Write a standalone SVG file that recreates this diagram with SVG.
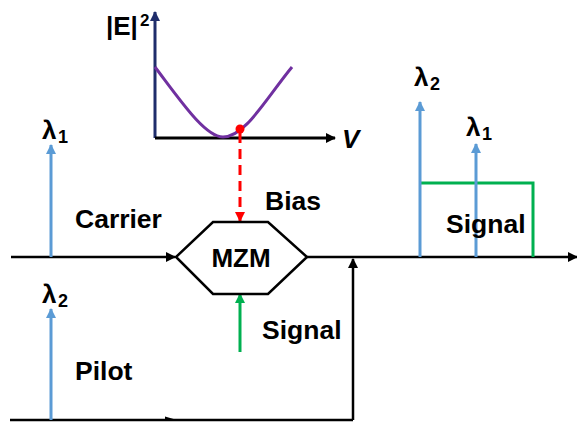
<svg xmlns="http://www.w3.org/2000/svg" width="577" height="422" viewBox="0 0 577 422">
<style>
text{font-family:"Liberation Sans",Arial,sans-serif;font-weight:bold;fill:#000}
.lbl{font-size:26.5px}
.lam{font-size:26px}
.sub{font-size:18px}
.blk{stroke:#000;stroke-width:2.5;fill:none}
.blue{stroke:#5B9BD5;stroke-width:3;fill:none}
.grn{stroke:#00B050;stroke-width:3;fill:none}
</style>
<defs>
<marker id="abk" viewBox="0 0 10 10" refX="9" refY="5" markerWidth="10" markerHeight="10" orient="auto" markerUnits="userSpaceOnUse"><path d="M0,0 L10,5 L0,10 z" fill="#000"/></marker>
<marker id="anv" viewBox="0 0 10 10" refX="9" refY="5" markerWidth="10" markerHeight="10" orient="auto" markerUnits="userSpaceOnUse"><path d="M0,0 L10,5 L0,10 z" fill="#1F2D6B"/></marker>
<marker id="abl" viewBox="0 0 10 10" refX="9" refY="5" markerWidth="10" markerHeight="10" orient="auto" markerUnits="userSpaceOnUse"><path d="M0,0 L10,5 L0,10 z" fill="#5B9BD5"/></marker>
<marker id="agr" viewBox="0 0 10 10" refX="9" refY="5" markerWidth="10" markerHeight="10" orient="auto" markerUnits="userSpaceOnUse"><path d="M0,0 L10,5 L0,10 z" fill="#00B050"/></marker>
<marker id="ard" viewBox="0 0 10 10" refX="9" refY="5" markerWidth="10" markerHeight="10" orient="auto" markerUnits="userSpaceOnUse"><path d="M0,0 L10,5 L0,10 z" fill="#FF0000"/></marker>
</defs>

<g id="plot">
<line x1="155" y1="138" x2="155" y2="12" stroke="#1F2D6B" stroke-width="3" marker-end="url(#anv)"/>
<line x1="155" y1="138" x2="335" y2="138" stroke="#000" stroke-width="3" marker-end="url(#abk)"/>
<path d="M155,67 C180,100 205,137 223,137 C245,137 265,100 292,67" stroke="#7030A0" stroke-width="3" fill="none"/>
<circle cx="240" cy="129" r="4.5" fill="#FF0000"/>
<text x="106" y="35" style="font-size:26px">|E|</text>
<text x="140" y="26" style="font-size:17px">2</text>
<text x="342" y="148" style="font-size:26px;font-style:italic">V</text>
</g>

<g id="connectors">
<line x1="11" y1="257" x2="175" y2="257" class="blk" marker-end="url(#abk)"/>
<line x1="307" y1="257" x2="577" y2="257" class="blk" marker-end="url(#abk)"/>
<line x1="10" y1="420" x2="353" y2="420" class="blk"/>
<path d="M165,416.5 L177,420 L165,420 z" fill="#000"/>
<line x1="353" y1="420" x2="353" y2="259" class="blk" marker-end="url(#abk)"/>
<line x1="240" y1="133" x2="240" y2="221" stroke="#FF0000" stroke-width="3" stroke-dasharray="10,6" marker-end="url(#ard)"/>
<line x1="240" y1="352" x2="240" y2="294" stroke="#00B050" stroke-width="3" marker-end="url(#agr)"/>
</g>

<g id="mzm">
<polygon points="176,257 213,222 268,222 307,257 268,294 213,294" fill="#fff" stroke="#000" stroke-width="2.5"/>
<text x="241" y="267" style="font-size:26px" text-anchor="middle">MZM</text>
</g>

<g id="carrier">
<line x1="51" y1="257" x2="51" y2="145" class="blue" marker-end="url(#abl)"/>
<text x="42" y="139" class="lam">λ</text><text x="58" y="143" class="sub">1</text>
<text x="75" y="228" class="lbl">Carrier</text>
</g>

<g id="pilot">
<line x1="51" y1="420" x2="51" y2="309" class="blue" marker-end="url(#abl)"/>
<text x="42" y="303" class="lam">λ</text><text x="58" y="307" class="sub">2</text>
<text x="75" y="380" class="lbl">Pilot</text>
</g>

<g id="bias">
<text x="265" y="210" class="lbl">Bias</text>
</g>

<g id="signal-in">
<text x="262" y="339" class="lbl">Signal</text>
</g>

<g id="output">
<polyline points="420,183 533,183 533,257" class="grn"/>
<line x1="420" y1="257" x2="420" y2="102" class="blue" marker-end="url(#abl)"/>
<line x1="476" y1="257" x2="476" y2="144" class="blue" marker-end="url(#abl)"/>
<text x="414" y="86" class="lam">λ</text><text x="430" y="90" class="sub">2</text>
<text x="466" y="136" class="lam">λ</text><text x="482" y="140" class="sub">1</text>
<text x="446" y="233" class="lbl">Signal</text>
</g>
</svg>
